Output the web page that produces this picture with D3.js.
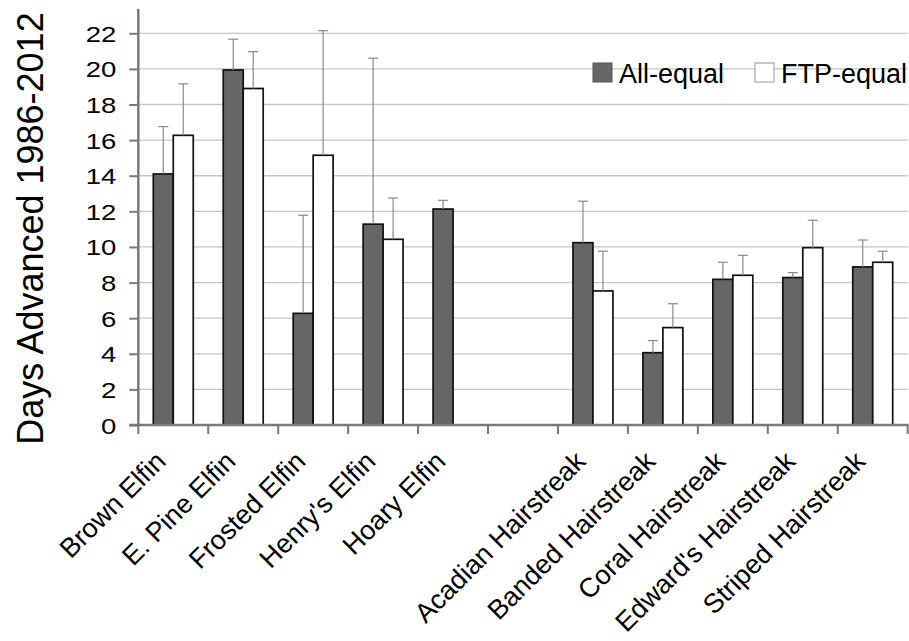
<!DOCTYPE html>
<html>
<head>
<meta charset="utf-8">
<script src="https://cdn.jsdelivr.net/npm/d3@7"></script>
<style>
  html, body { margin: 0; padding: 0; background: #fff; }
  svg { display: block; }
  text { font-family: "Liberation Sans", Arial, sans-serif; fill: #000; }
</style>
</head>
<body>
<svg id="chart" width="909" height="641"></svg>
<script>
// ---- data ----
const categories = ["Brown Elfin", "E. Pine Elfin", "Frosted Elfin", "Henry's Elfin", "Hoary Elfin", "",
  "Acadian Hairstreak", "Banded Hairstreak", "Coral Hairstreak", "Edward's Hairstreak", "Striped Hairstreak"];
const seriesNames = ["All-equal", "FTP-equal"];
const allEqual    = [14.1, 19.94, 6.27, 11.28, 12.13, null, 10.24, 4.06, 8.18, 8.28, 8.88];
const allEqualErr = [2.66, 1.73, 5.51, 9.32, 0.49, null, 2.33, 0.68, 0.96, 0.28, 1.51];
const ftpEqual    = [16.27, 18.9, 15.15, 10.43, null, null, 7.53, 5.47, 8.41, 9.96, 9.14];
const ftpEqualErr = [2.89, 2.07, 7.0, 2.32, null, null, 2.23, 1.34, 1.12, 1.54, 0.62];
const yTicks = [0, 2, 4, 6, 8, 10, 12, 14, 16, 18, 20, 22];
const yLabel = "Days Advanced 1986-2012";

const seriesFill = ["#666666", "#ffffff"];

// ---- layout ----
const svg = d3.select("#chart");
const plotLeft = 138.3, plotRight = 907.7, plotBottom = 425, plotTop22 = 33.3, axisTop = 9;

const x = d3.scaleBand().domain(d3.range(categories.length)).range([plotLeft, plotRight]).paddingInner(0).paddingOuter(0);
const xs = d3.scaleBand().domain([0, 1]).range([15, x.bandwidth() - 15]).padding(0);
const y = d3.scaleLinear().domain([0, 22]).range([plotBottom, plotTop22]);

// gridlines
svg.append("g").selectAll("line").data(yTicks.filter(d => d > 0)).join("line")
  .attr("x1", plotLeft).attr("x2", plotRight)
  .attr("y1", d => y(d)).attr("y2", d => y(d))
  .attr("stroke", "#c6c6c6").attr("stroke-width", 1.3);

// bars
const rows = categories.map((c, i) => [
  { i, s: 0, v: allEqual[i], e: allEqualErr[i] },
  { i, s: 1, v: ftpEqual[i], e: ftpEqualErr[i] }
]).flat().filter(d => d.v != null);

const gBars = svg.append("g");
gBars.selectAll("rect").data(rows).join("rect")
  .attr("x", d => x(d.i) + xs(d.s))
  .attr("width", xs.bandwidth())
  .attr("y", d => y(d.v))
  .attr("height", d => y(0) - y(d.v))
  .attr("fill", d => seriesFill[d.s])
  .attr("stroke", "#111").attr("stroke-width", 1.7);

// error bars (upper only)
const gErr = svg.append("g").attr("stroke", "#8a8a8a").attr("stroke-width", 1.2);
const errRows = rows.filter(d => d.e != null);
gErr.selectAll("line.v").data(errRows).join("line").attr("class", "v")
  .attr("x1", d => x(d.i) + xs(d.s) + xs.bandwidth() / 2)
  .attr("x2", d => x(d.i) + xs(d.s) + xs.bandwidth() / 2)
  .attr("y1", d => y(d.v)).attr("y2", d => y(d.v + d.e));
gErr.selectAll("line.c").data(errRows).join("line").attr("class", "c")
  .attr("x1", d => x(d.i) + xs(d.s) + xs.bandwidth() / 2 - 5)
  .attr("x2", d => x(d.i) + xs(d.s) + xs.bandwidth() / 2 + 5)
  .attr("y1", d => y(d.v + d.e)).attr("y2", d => y(d.v + d.e));

// y axis
const yAxis = d3.axisLeft(y).tickValues(yTicks).tickSize(9).tickPadding(0).tickFormat(d3.format("d"));
const gy = svg.append("g").attr("transform", `translate(${plotLeft},0)`).call(yAxis);
gy.select(".domain").remove();
gy.selectAll(".tick line").attr("stroke", "#7a7a7a").attr("stroke-width", 2);
gy.selectAll(".tick text").attr("x", null).attr("dy", null).attr("text-anchor", "end")
  .style("font-size", "22px")
  .attr("transform", "translate(-22,8) scale(1.25,1)");
svg.append("line").attr("x1", plotLeft).attr("x2", plotLeft).attr("y1", axisTop).attr("y2", plotBottom + 1)
  .attr("stroke", "#7a7a7a").attr("stroke-width", 2.5);

// x axis
const xEdges = d3.range(categories.length + 1).map(i => plotLeft + i * x.bandwidth());
svg.append("g").selectAll("line").data(xEdges).join("line")
  .attr("x1", d => d).attr("x2", d => d).attr("y1", plotBottom).attr("y2", plotBottom + 9)
  .attr("stroke", "#7a7a7a").attr("stroke-width", 2);
svg.append("line").attr("x1", plotLeft - 9).attr("x2", plotRight + 1).attr("y1", plotBottom).attr("y2", plotBottom)
  .attr("stroke", "#7a7a7a").attr("stroke-width", 2.5);

svg.append("g").selectAll("text").data(categories.map((c, i) => ({ c, i })).filter(d => d.c !== "")).join("text")
  .attr("transform", d => `translate(${x(d.i) + x.bandwidth() / 2 - 6},${plotBottom + 38}) rotate(-45)`)
  .attr("text-anchor", "end")
  .style("font-size", "27px")
  .text(d => d.c);

// y label
svg.append("text")
  .attr("transform", `translate(43,228.5) rotate(-90)`)
  .attr("text-anchor", "middle")
  .style("font-size", "36px")
  .text(yLabel);

// legend
const legendX = [593, 755];
const lg = svg.append("g").selectAll("g").data(seriesNames).join("g")
  .attr("transform", (d, i) => `translate(${legendX[i]},63)`);
lg.append("rect").attr("width", 19).attr("height", 19)
  .attr("fill", (d, i) => seriesFill[i])
  .attr("stroke", (d, i) => i === 0 ? "#555" : "#999").attr("stroke-width", 1);
lg.append("text").attr("x", 26).attr("y", 20).style("font-size", "27px").text(d => d);
</script>
</body>
</html>
